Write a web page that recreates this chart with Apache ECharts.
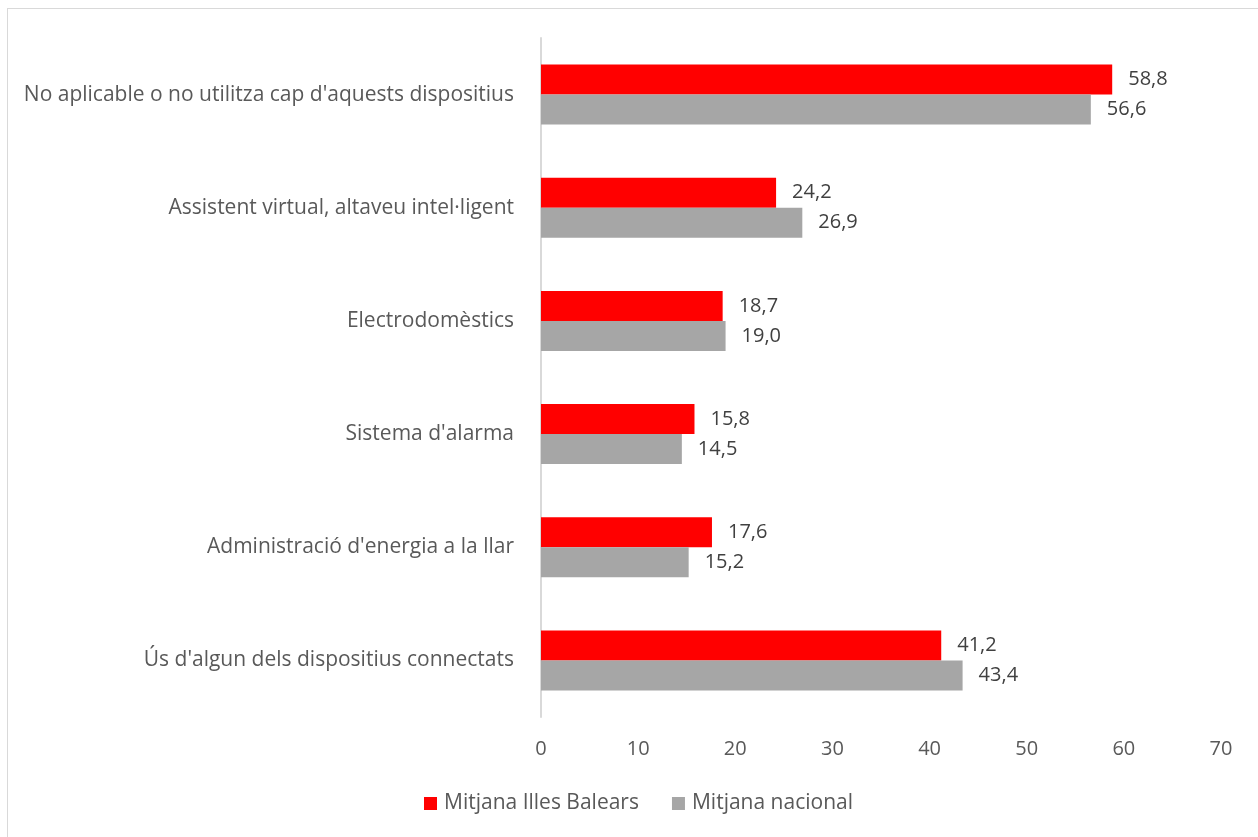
<!DOCTYPE html>
<html>
<head>
<meta charset="utf-8">
<script src="https://cdn.jsdelivr.net/npm/echarts@6/dist/echarts.min.js"></script>
<style>
html,body{margin:0;padding:0;background:#fff;}
#frame{position:absolute;left:7px;top:8px;width:1300px;height:900px;border:1px solid #d9d9d9;box-sizing:border-box;}
#chart{position:absolute;left:0;top:0;width:1258px;height:837px;}
</style>
</head>
<body>
<div id="frame"></div>
<div id="chart"></div>
<script>
const categories = [
  "No aplicable o no utilitza cap d'aquests dispositius",
  "Assistent virtual, altaveu intel·ligent",
  "Electrodomèstics",
  "Sistema d'alarma",
  "Administració d'energia a la llar",
  "Ús d'algun dels dispositius connectats"
];
const balears = [58.8, 24.2, 18.7, 15.8, 17.6, 41.2];
const nacional = [56.6, 26.9, 19.0, 14.5, 15.2, 43.4];
const seriesNames = ["Mitjana Illes Balears", "Mitjana nacional"];

const font = "Open Sans";
const fs = 20;
const chart = echarts.init(document.getElementById('chart'), null, {renderer: 'canvas'});
const fmt = p => p.value.toFixed(1).replace('.', ',');
chart.setOption({
  animation: false,
  backgroundColor: 'transparent',
  textStyle: {fontFamily: font},
  grid: {left: 541, right: 37, top: 38, bottom: 120, containLabel: false},
  legend: {
    bottom: 18, left: 419,
    itemWidth: 13, itemHeight: 13, itemGap: 33,
    icon: 'rect',
    textStyle: {color: '#595959', fontSize: 21, fontFamily: font, padding: [0, 0, 0, 2]},
    data: seriesNames
  },
  xAxis: {
    type: 'value', min: 0, max: 70, interval: 10,
    axisLine: {show: false}, axisTick: {show: false}, splitLine: {show: false},
    axisLabel: {color: '#595959', fontSize: fs, margin: 22, fontFamily: font}
  },
  yAxis: {
    type: 'category', data: categories, inverse: true,
    axisLine: {show: true, lineStyle: {color: '#d9d9d9', width: 2}},
    axisTick: {show: false},
    axisLabel: {color: '#595959', fontSize: 21, margin: 27, fontFamily: font}
  },
  series: [
    {
      name: seriesNames[0], type: 'bar', data: balears,
      barGap: '0%', barCategoryGap: '47%',
      itemStyle: {color: '#ff0000'},
      label: {show: true, position: 'right', distance: 16, color: '#404040', fontSize: fs, fontFamily: font, formatter: fmt}
    },
    {
      name: seriesNames[1], type: 'bar', data: nacional,
      barGap: '0%', barCategoryGap: '47%',
      itemStyle: {color: '#a6a6a6'},
      label: {show: true, position: 'right', distance: 16, color: '#404040', fontSize: fs, fontFamily: font, formatter: fmt}
    }
  ]
});
</script>
</body>
</html>
